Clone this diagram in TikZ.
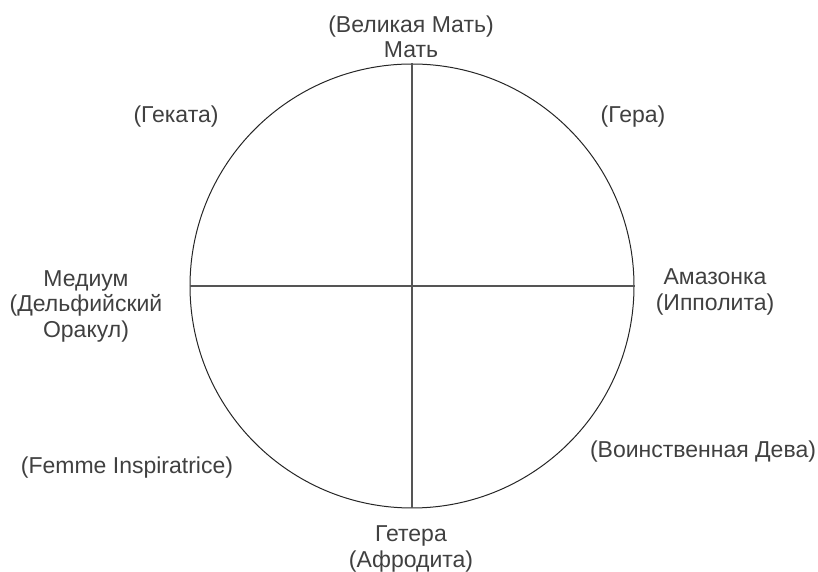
\documentclass[tikz,border=0pt]{standalone}
\usepackage{fontspec}
\setmainfont{Liberation Sans}
\definecolor{txt}{HTML}{404040}
\definecolor{axis}{HTML}{555555}
\begin{document}
\begin{tikzpicture}[x=1pt,y=1pt,
  lbl/.style={align=center,text=txt,inner sep=0pt,font=\fontsize{23}{25.5}\selectfont},
  axisline/.style={draw=axis,line width=1.3pt},
  circ/.style={draw=black!85,line width=1pt}]
\useasboundingbox (0,0) rectangle (818,572);
\coordinate (c) at (412,286);
\node[circ,circle,minimum size=444pt,inner sep=0pt] (ring) at (c) {};
\draw[axisline] (ring.north) -- (ring.south);
\draw[axisline] (ring.west) -- (ring.east);
\node[lbl] (top) at (411,535) {(Великая Мать)\\Мать};
\node[lbl] (hek) at (176,455) {(Геката)};
\node[lbl] (hera) at (633,455) {(Гера)};
\node[lbl] (med) at (86,266) {Медиум\\(Дельфийский\\Оракул)};
\node[lbl] (ama) at (715,280) {Амазонка\\(Ипполита)};
\node[lbl] (war) at (703,120) {(Воинственная Дева)};
\node[lbl] (fem) at (127,104) {(Femme Inspiratrice)};
\node[lbl] (het) at (411,23) {Гетера\\(Афродита)};
\end{tikzpicture}
\end{document}
